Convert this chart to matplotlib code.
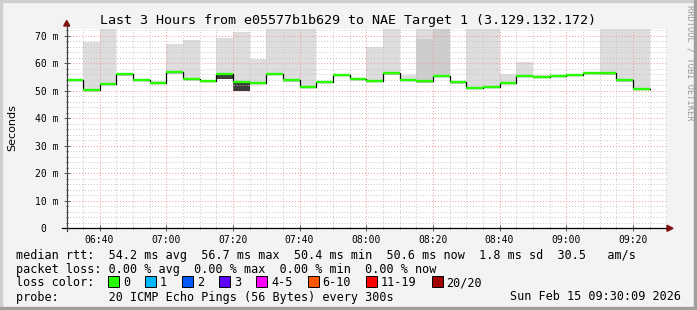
import matplotlib
matplotlib.use("Agg")
import matplotlib.pyplot as plt
import numpy as np
from matplotlib.patches import Rectangle, Polygon

# --- data, one value per 5 minute step ---
median = [53.9, 50.4, 52.5, 56.1, 53.9, 52.7, 56.7, 54.4, 53.7, 56.1,
          53.3, 53.0, 56.1, 53.9, 51.4, 53.1, 55.9, 54.4, 53.7, 56.4,
          53.9, 53.4, 55.5, 53.3, 51.0, 51.4, 53.0, 55.4, 55.1, 55.4,
          55.9, 56.6, 56.4, 53.9, 50.6]
smoke_hi = [54.3, 67.9, 73.0, 56.3, 54.2, 53.6, 67.0, 68.5, 54.0, 69.1,
            71.3, 61.6, 73.0, 73.0, 73.0, 53.5, 56.2, 54.6, 66.0, 73.0,
            55.7, 73.0, 73.0, 53.6, 73.0, 73.0, 56.0, 60.4, 55.6, 55.6,
            56.2, 57.0, 73.0, 73.0, 73.0]
smoke_lo = [53.7, 50.0, 52.2, 55.5, 53.5, 52.4, 56.2, 53.9, 53.4, 54.2,
            50.0, 52.5, 55.7, 53.3, 51.1, 52.8, 55.5, 54.0, 53.2, 55.9,
            53.5, 53.0, 55.2, 52.6, 50.6, 51.0, 52.3, 55.0, 54.8, 55.0,
            55.6, 56.3, 55.9, 53.3, 50.2]
# darker smoke layers (nan = none)
mid_hi = [np.nan] * 21 + [68.8, 73.0] + [np.nan] * 12
dark_lo = [np.nan] * 9 + [54.2, 50.0] + [np.nan] * 24

first_step = 6 * 60 + 30      # 06:30, minutes after midnight
step_min = 5
t_begin = 6 * 60 + 30 + 9 / 60
t_end = 9 * 60 + 30 + 9 / 60

tick_labels = ["06:40", "07:00", "07:20", "07:40", "08:00",
               "08:20", "08:40", "09:00", "09:20"]
ytick_vals = [0, 10, 20, 30, 40, 50, 60, 70]
ytick_labels = ["0  ", "10 m", "20 m", "30 m", "40 m", "50 m", "60 m", "70 m"]

loss_labels = ["0", "1", "2", "3", "4-5", "6-10", "11-19", "20/20"]
loss_colors = ["#26ff00", "#00b8ff", "#0059ff", "#5e00ff",
               "#ff00ff", "#ff5500", "#ff0000", "#a10000"]

W, H = 697, 310
MONO = "DejaVu Sans Mono"


def fx(px):
    return px / W


def fy(py):
    return 1 - py / H


fig = plt.figure(figsize=(W / 100, H / 100), dpi=100, facecolor="#f3f3f3")

# 3d frame
fig.patches.append(Rectangle((0, 0), fx(2), 1, transform=fig.transFigure, color="#cfcfcf", zorder=0))
fig.patches.append(Rectangle((0, fy(2)), 1, 2 / H, transform=fig.transFigure, color="#cfcfcf", zorder=0))
fig.patches.append(Rectangle((fx(W - 3), 0), fx(3), 1, transform=fig.transFigure, color="#9e9e9e", zorder=0))
fig.patches.append(Rectangle((0, 0), 1, 3 / H, transform=fig.transFigure, color="#9e9e9e", zorder=0))

x0, x1 = 66.7, 666.7
ybot, ytop = 228.3, 28.5
ax = fig.add_axes([fx(x0), fy(ybot), fx(x1 - x0), (ybot - ytop) / H])
ax.set_facecolor("white")
ax.set_xlim(t_begin, t_end)
ax.set_ylim(0, 72.65)

slots = first_step + step_min * np.arange(len(median))
med = np.array(median)
hi = np.array(smoke_hi)
lo = np.array(smoke_lo)

# smoke
ax.bar(slots, hi - lo, bottom=lo, width=step_min, align="edge", color="#dddddd", linewidth=0, zorder=1)
mh = np.array(mid_hi)
ax.bar(slots, mh - lo, bottom=lo, width=step_min, align="edge", color="#cdcdcd", linewidth=0, zorder=1.1)
dl = np.array(dark_lo)
ax.bar(slots, med - dl, bottom=dl, width=step_min, align="edge", color="#3c3c3c", linewidth=0, zorder=1.2)

# median line
edges = np.append(slots, slots[-1] + step_min)
ax.step(edges, np.append(med, med[-1]), where="post", color="black", lw=0.9, zorder=3)
ax.hlines(med, slots, slots + step_min, color="#26ff00", lw=1.7, zorder=3.5)

# grid
ax.set_xticks(np.arange(400, 570, 20))
ax.set_xticklabels(tick_labels, family=MONO, fontsize=7)
ax.set_xticks(np.arange(395, 571, 5), minor=True)
ax.set_yticks(ytick_vals)
ax.set_yticklabels(ytick_labels, family=MONO, fontsize=7)
ax.set_yticks(np.arange(0, 73, 2), minor=True)
ax.set_axisbelow(False)
ax.grid(which="minor", color="#c6c6c6", linestyle=(0, (1, 2)), lw=0.7)
ax.grid(which="major", color="#f29494", linestyle=(0, (1, 2)), lw=0.7)
for s in ax.spines.values():
    s.set_visible(False)
ax.tick_params(which="both", direction="inout", color="#404040", width=0.6)
ax.tick_params(which="major", length=4)
ax.tick_params(which="minor", length=2)
ax.tick_params(axis="x", which="major", pad=3)
ax.tick_params(axis="y", which="major", pad=4)

# axis lines and arrows
fig.add_artist(plt.Line2D([fx(62), fx(668)], [fy(ybot), fy(ybot)], color="black", lw=0.9, zorder=5))
fig.add_artist(plt.Line2D([fx(x0), fx(x0)], [fy(ybot + 3), fy(25)], color="#404040", lw=0.9, zorder=5))
fig.patches.append(Polygon([[fx(x0 - 3), fy(26)], [fx(x0 + 3), fy(26)], [fx(x0), fy(20.5)]],
                           closed=True, transform=fig.transFigure, color="#7f1010", zorder=6))
fig.patches.append(Polygon([[fx(667), fy(ybot - 3)], [fx(667), fy(ybot + 3)], [fx(673), fy(ybot)]],
                           closed=True, transform=fig.transFigure, color="#7f1010", zorder=6))

# texts
fig.text(fx(348), fy(24), "Last 3 Hours from e05577b1b629 to NAE Target 1 (3.129.132.172)",
         family=MONO, fontsize=9.6, ha="center", va="baseline")
fig.text(fx(12), fy(128), "Seconds", family="DejaVu Sans", fontsize=8, rotation=90,
         ha="center", va="center")
fig.text(fx(690), fy(5), "RRDTOOL / TOBI OETIKER", family=MONO, fontsize=6.2, rotation=270,
         ha="center", va="top", color="#999999")

lines = [
    "median rtt:  54.2 ms avg  56.7 ms max  50.4 ms min  50.6 ms now  1.8 ms sd  30.5   am/s",
    "packet loss: 0.00 % avg  0.00 % max  0.00 % min  0.00 % now",
    "loss color:",
    "probe:       20 ICMP Echo Pings (56 Bytes) every 300s",
]
baselines = [259, 272.8, 286.5, 300.5]
for txt, b in zip(lines, baselines):
    fig.text(fx(16), fy(b), txt, family=MONO, fontsize=8.5, va="baseline")
fig.text(fx(681), fy(300.5), "Sun Feb 15 09:30:09 2026", family=MONO, fontsize=8.5,
         va="baseline", ha="right")

cw = 7.1
x = 108
for lab, col in zip(loss_labels, loss_colors):
    fig.patches.append(Rectangle((fx(x), fy(286.7)), fx(11), 11 / H, transform=fig.transFigure,
                                 facecolor=col, edgecolor="black", lw=0.7))
    fig.text(fx(x + 15), fy(286.5), lab, family=MONO, fontsize=8.5, va="baseline")
    x = x + 15 + len(lab) * cw + 15

fig.savefig("out.png", dpi=100, facecolor=fig.get_facecolor())
